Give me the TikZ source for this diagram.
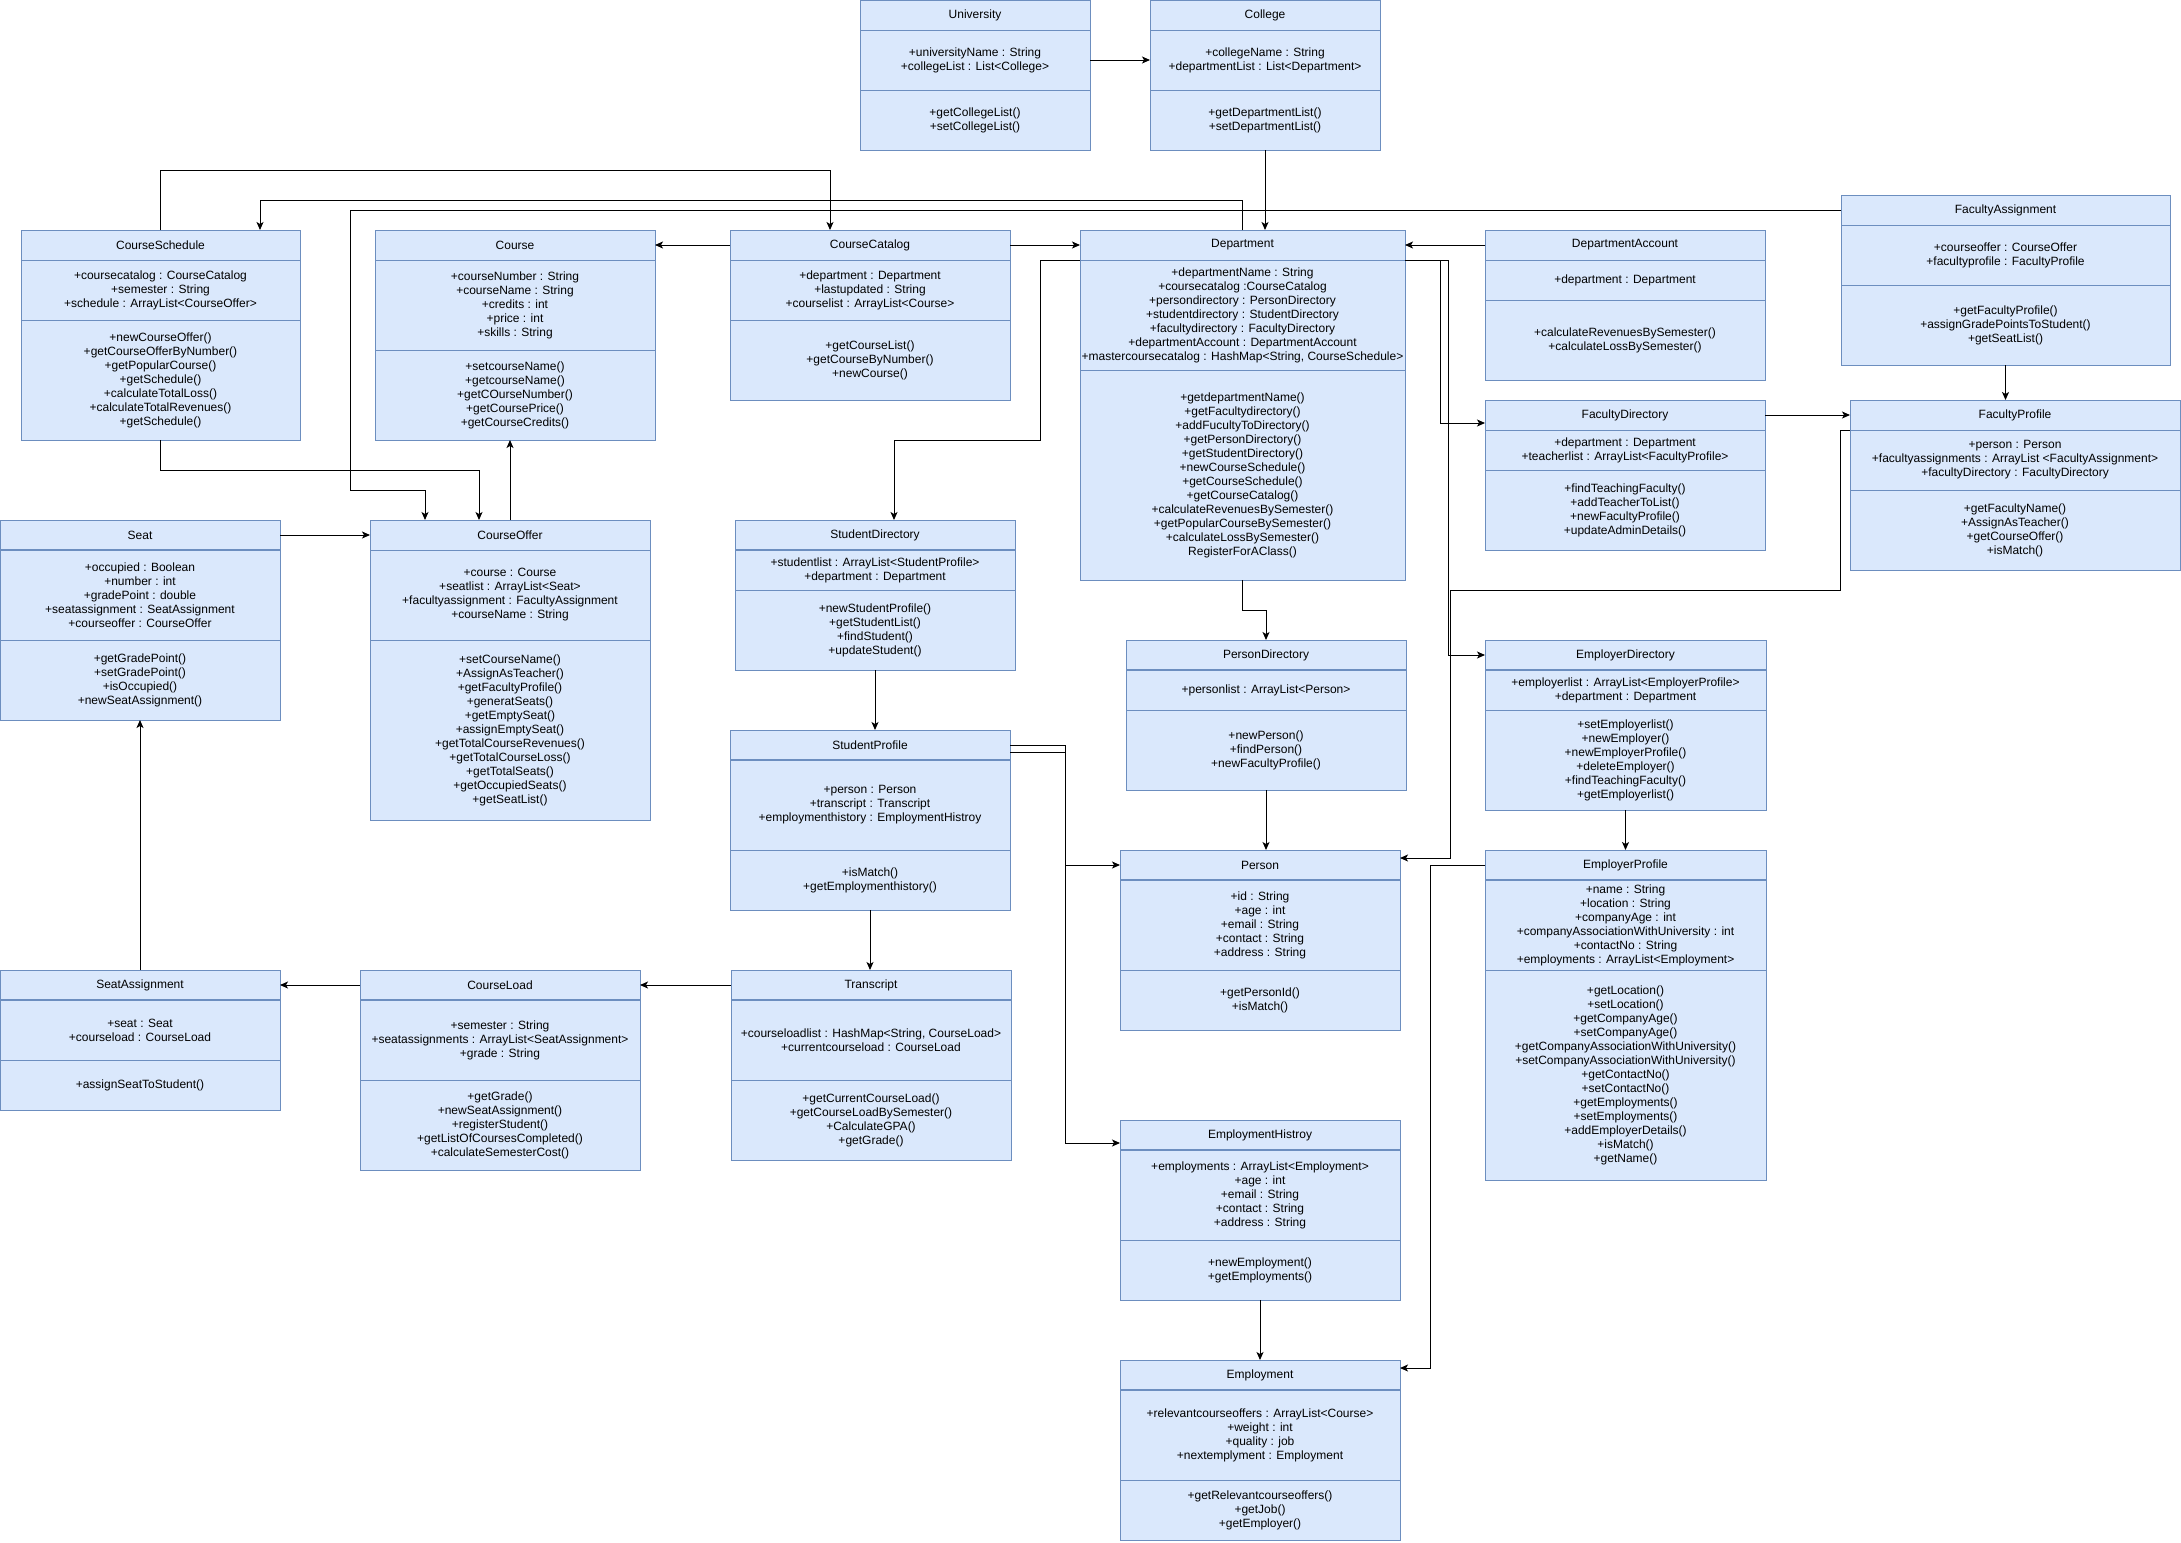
\documentclass[tikz,border=0pt]{standalone}
\usepackage{fontspec}
\setmainfont{Liberation Sans}
\usetikzlibrary{
arrows,
arrows.meta,
positioning
}
\definecolor{classfill}{HTML}{DAE8FC}
\definecolor{classline}{HTML}{6C8EBF}
\tikzset{>={Stealth[length=8pt,width=7pt,inset=2pt]}}
\tikzset{
classhead/.style={draw=classline, fill=classfill, line width=1pt, inner sep=0pt, outer sep=0pt,
  align=center, minimum width=#1, minimum height=30pt},
classpart/.style={classhead=#1},
link/.style={->, line width=1pt}
}

\begin{document}
\begin{tikzpicture}[x=1pt, y=-1pt, font=\fontsize{12pt}{14pt}\selectfont]
		\useasboundingbox (0,0) rectangle (2181,1542);

		% top row
		\node[classhead=230pt, anchor=north west] (univ) at (860,0) {University};
		\node[classpart=230pt, minimum height=60pt, below=0pt of univ] (univ-a) {+universityName : String\\+collegeList : List<College>};
		\node[classpart=230pt, minimum height=60pt, below=0pt of univ-a] (univ-m) {+getCollegeList()\\+setCollegeList()};

		\node[classhead=230pt, anchor=north west] (college) at (1150,0) {College};
		\node[classpart=230pt, minimum height=60pt, below=0pt of college] (college-a) {+collegeName : String\\+departmentList : List<Department>};
		\node[classpart=230pt, minimum height=60pt, below=0pt of college-a] (college-m) {+getDepartmentList()\\+setDepartmentList()};

		% second row
		\node[classhead=279pt, anchor=north west] (sched) at (21,230) {CourseSchedule};
		\node[classpart=279pt, minimum height=60pt, below=0pt of sched] (sched-a) {+coursecatalog : CourseCatalog\\+semester : String\\+schedule : ArrayList<CourseOffer>};
		\node[classpart=279pt, minimum height=120pt, below=0pt of sched-a] (sched-m) {+newCourseOffer()\\+getCourseOfferByNumber()\\+getPopularCourse()\\+getSchedule()\\+calculateTotalLoss()\\+calculateTotalRevenues()\\+getSchedule()};

		\node[classhead=280pt, anchor=north west] (course) at (375,230) {Course};
		\node[classpart=280pt, minimum height=90pt, below=0pt of course] (course-a) {+courseNumber : String\\+courseName : String\\+credits : int\\+price : int\\+skills : String};
		\node[classpart=280pt, minimum height=90pt, below=0pt of course-a] (course-m) {+setcourseName()\\+getcourseName()\\+getCOurseNumber()\\+getCoursePrice()\\+getCourseCredits()};

		\node[classhead=280pt, anchor=north west] (cat) at (730,230) {CourseCatalog};
		\node[classpart=280pt, minimum height=60pt, below=0pt of cat] (cat-a) {+department : Department\\+lastupdated : String\\+courselist : ArrayList<Course>};
		\node[classpart=280pt, minimum height=80pt, below=0pt of cat-a] (cat-m) {+getCourseList()\\+getCourseByNumber()\\+newCourse()};

		\node[classhead=325pt, anchor=north west] (dept) at (1080,230) {Department};
		\node[classpart=325pt, minimum height=110pt, below=0pt of dept] (dept-a) {+departmentName : String\\+coursecatalog :CourseCatalog\\+persondirectory : PersonDirectory\\+studentdirectory : StudentDirectory\\+facultydirectory : FacultyDirectory\\+departmentAccount : DepartmentAccount\\+mastercoursecatalog : HashMap<String, CourseSchedule>};
		\node[classpart=325pt, minimum height=210pt, below=0pt of dept-a] (dept-m) {+getdepartmentName()\\+getFacultydirectory()\\+addFucultyToDirectory()\\+getPersonDirectory()\\+getStudentDirectory()\\+newCourseSchedule()\\+getCourseSchedule()\\+getCourseCatalog()\\+calculateRevenuesBySemester()\\+getPopularCourseBySemester()\\+calculateLossBySemester()\\RegisterForAClass()};

		\node[classhead=280pt, anchor=north west] (acct) at (1485,230) {DepartmentAccount};
		\node[classpart=280pt, minimum height=40pt, below=0pt of acct] (acct-a) {+department : Department};
		\node[classpart=280pt, minimum height=80pt, below=0pt of acct-a] (acct-m) {+calculateRevenuesBySemester()\\+calculateLossBySemester()};

		\node[classhead=329pt, anchor=north west] (fassign) at (1841,195) {FacultyAssignment};
		\node[classpart=329pt, minimum height=60pt, below=0pt of fassign] (fassign-a) {+courseoffer : CourseOffer\\+facultyprofile : FacultyProfile};
		\node[classpart=329pt, minimum height=80pt, below=0pt of fassign-a] (fassign-m) {+getFacultyProfile()\\+assignGradePointsToStudent()\\+getSeatList()};

		\node[classhead=280pt, anchor=north west] (facdir) at (1485,400) {FacultyDirectory};
		\node[classpart=280pt, minimum height=40pt, below=0pt of facdir] (facdir-a) {+department : Department\\+teacherlist : ArrayList<FacultyProfile>};
		\node[classpart=280pt, minimum height=80pt, below=0pt of facdir-a] (facdir-m) {+findTeachingFaculty()\\+addTeacherToList()\\+newFacultyProfile()\\+updateAdminDetails()};

		\node[classhead=330pt, anchor=north west] (facprof) at (1850,400) {FacultyProfile};
		\node[classpart=330pt, minimum height=60pt, below=0pt of facprof] (facprof-a) {+person : Person\\+facultyassignments : ArrayList <FacultyAssignment>\\+facultyDirectory : FacultyDirectory};
		\node[classpart=330pt, minimum height=80pt, below=0pt of facprof-a] (facprof-m) {+getFacultyName()\\+AssignAsTeacher()\\+getCourseOffer()\\+isMatch()};

		% third row
		\node[classhead=280pt, anchor=north west] (seat) at (0,520) {Seat};
		\node[classpart=280pt, minimum height=90pt, below=0pt of seat] (seat-a) {+occupied : Boolean\\+number : int\\+gradePoint : double\\+seatassignment : SeatAssignment\\+courseoffer : CourseOffer};
		\node[classpart=280pt, minimum height=80pt, below=0pt of seat-a] (seat-m) {+getGradePoint()\\+setGradePoint()\\+isOccupied()\\+newSeatAssignment()};

		\node[classhead=280pt, anchor=north west] (offer) at (370,520) {CourseOffer};
		\node[classpart=280pt, minimum height=90pt, below=0pt of offer] (offer-a) {+course : Course\\+seatlist : ArrayList<Seat>\\+facultyassignment : FacultyAssignment\\+courseName : String};
		\node[classpart=280pt, minimum height=180pt, below=0pt of offer-a] (offer-m) {+setCourseName()\\+AssignAsTeacher()\\+getFacultyProfile()\\+generatSeats()\\+getEmptySeat()\\+assignEmptySeat()\\+getTotalCourseRevenues()\\+getTotalCourseLoss()\\+getTotalSeats()\\+getOccupiedSeats()\\+getSeatList()};

		\node[classhead=280pt, anchor=north west] (sdir) at (735,520) {StudentDirectory};
		\node[classpart=280pt, minimum height=40pt, below=0pt of sdir] (sdir-a) {+studentlist : ArrayList<StudentProfile>\\+department : Department};
		\node[classpart=280pt, minimum height=80pt, below=0pt of sdir-a] (sdir-m) {+newStudentProfile()\\+getStudentList()\\+findStudent()\\+updateStudent()};

		\node[classhead=280pt, anchor=north west] (sprof) at (730,730) {StudentProfile};
		\node[classpart=280pt, minimum height=90pt, below=0pt of sprof] (sprof-a) {+person : Person\\+transcript : Transcript\\+employmenthistory : EmploymentHistroy};
		\node[classpart=280pt, minimum height=60pt, below=0pt of sprof-a] (sprof-m) {+isMatch()\\+getEmploymenthistory()};

		\node[classhead=280pt, anchor=north west] (pdir) at (1126,640) {PersonDirectory};
		\node[classpart=280pt, minimum height=40pt, below=0pt of pdir] (pdir-a) {+personlist : ArrayList<Person>};
		\node[classpart=280pt, minimum height=80pt, below=0pt of pdir-a] (pdir-m) {+newPerson()\\+findPerson()\\+newFacultyProfile()};

		\node[classhead=281pt, anchor=north west] (empdir) at (1485,640) {EmployerDirectory};
		\node[classpart=281pt, minimum height=40pt, below=0pt of empdir] (empdir-a) {+employerlist : ArrayList<EmployerProfile>\\+department : Department};
		\node[classpart=281pt, minimum height=100pt, below=0pt of empdir-a] (empdir-m) {+setEmployerlist()\\+newEmployer()\\+newEmployerProfile()\\+deleteEmployer()\\+findTeachingFaculty()\\+getEmployerlist()};

		\node[classhead=280pt, anchor=north west] (person) at (1120,850) {Person};
		\node[classpart=280pt, minimum height=90pt, below=0pt of person] (person-a) {+id : String\\+age : int\\+email : String\\+contact : String\\+address : String};
		\node[classpart=280pt, minimum height=60pt, below=0pt of person-a] (person-m) {+getPersonId()\\+isMatch()};

		\node[classhead=281pt, anchor=north west] (empprof) at (1485,850) {EmployerProfile};
		\node[classpart=281pt, minimum height=90pt, below=0pt of empprof] (empprof-a) {+name : String\\+location : String\\+companyAge : int\\+companyAssociationWithUniversity : int\\+contactNo : String\\+employments : ArrayList<Employment>};
		\node[classpart=281pt, minimum height=210pt, below=0pt of empprof-a] (empprof-m) {+getLocation()\\+setLocation()\\+getCompanyAge()\\+setCompanyAge()\\+getCompanyAssociationWithUniversity()\\+setCompanyAssociationWithUniversity()\\+getContactNo()\\+setContactNo()\\+getEmployments()\\+setEmployments()\\+addEmployerDetails()\\+isMatch()\\+getName()};

		% bottom row
		\node[classhead=280pt, anchor=north west] (seatas) at (0,970) {SeatAssignment};
		\node[classpart=280pt, minimum height=60pt, below=0pt of seatas] (seatas-a) {+seat : Seat\\+courseload : CourseLoad};
		\node[classpart=280pt, minimum height=50pt, below=0pt of seatas-a] (seatas-m) {+assignSeatToStudent()};

		\node[classhead=280pt, anchor=north west] (load) at (360,970) {CourseLoad};
		\node[classpart=280pt, minimum height=80pt, below=0pt of load] (load-a) {+semester : String\\+seatassignments : ArrayList<SeatAssignment>\\+grade : String};
		\node[classpart=280pt, minimum height=90pt, below=0pt of load-a] (load-m) {+getGrade()\\+newSeatAssignment()\\+registerStudent()\\+getListOfCoursesCompleted()\\+calculateSemesterCost()};

		\node[classhead=280pt, anchor=north west] (trans) at (731,970) {Transcript};
		\node[classpart=280pt, minimum height=80pt, below=0pt of trans] (trans-a) {+courseloadlist : HashMap<String, CourseLoad>\\+currentcourseload : CourseLoad};
		\node[classpart=280pt, minimum height=80pt, below=0pt of trans-a] (trans-m) {+getCurrentCourseLoad()\\+getCourseLoadBySemester()\\+CalculateGPA()\\+getGrade()};

		\node[classhead=280pt, anchor=north west] (emphist) at (1120,1120) {EmploymentHistroy};
		\node[classpart=280pt, minimum height=90pt, below=0pt of emphist] (emphist-a) {+employments : ArrayList<Employment>\\+age : int\\+email : String\\+contact : String\\+address : String};
		\node[classpart=280pt, minimum height=60pt, below=0pt of emphist-a] (emphist-m) {+newEmployment()\\+getEmployments()};

		\node[classhead=280pt, anchor=north west] (employ) at (1120,1360) {Employment};
		\node[classpart=280pt, minimum height=90pt, below=0pt of employ] (employ-a) {+relevantcourseoffers : ArrayList<Course>\\+weight : int\\+quality : job\\+nextemplyment : Employment};
		\node[classpart=280pt, minimum height=60pt, below=0pt of employ-a] (employ-m) {+getRelevantcourseoffers()\\+getJob()\\+getEmployer()};

		% heavier header rules
		\foreach \c in {seat,sdir,sprof,pdir,empdir,person,empprof,seatas,load,trans,emphist,employ}
			\draw[classline, line width=2pt] (\c.south west) -- (\c.south east);

		% connectors
		\draw[link] (univ-a.east) -- (college-a.west);
		\draw[link] (college-m.south) -- (college-m.south |- dept.north);
		\draw[link] (dept.north) -- ++(0,-30) -| ([xshift=239pt]sched.north west);
		\draw[link] (sched.north) -- ++(0,-60) -| ([xshift=100pt]cat.north west);
		\draw[link] (cat.west) -- (course.east);
		\draw[link] (cat.east) -- (dept.west);
		\draw[link] (acct.west) -- (dept.east);
		\draw[link] (fassign.west) -| (350,490) -| ([xshift=55pt]offer.north west);
		\draw[link] (sched-m.south) -- ++(0,30) -| ([xshift=109pt]offer.north west);
		\draw[link] (offer.north) -- (offer.north |- course-m.south);
		\draw[link] (seat.east) -- (offer.west);
		\draw[link] (seatas.north) -- (seat-m.south);
		\draw[link] (load.west) -- (seatas.east);
		\draw[link] (trans.west) -- (load.east);
		\draw[link] (sprof-m.south) -- (sprof-m.south |- trans.north);
		\draw[link] (dept.south west) -- ++(-40,0) |- (894,440) -- ([xshift=159pt]sdir.north west);
		\draw[link] (sdir-m.south) -- (sdir-m.south |- sprof.north);
		\draw[link] (dept-m.south) -- ++(0,30) -| (pdir.north);
		\draw[link] (pdir-m.south) -- (pdir-m.south |- person.north);
		\draw[link] (dept.south east) -- ++(35,0) |- ([yshift=-8pt]facdir.west);
		\draw[link] (dept.south east) -- ++(43,0) |- (empdir.west);
		\draw[link] (facdir.east) -- (facprof.west);
		\draw[link] (fassign-m.south) -- (fassign-m.south |- facprof.north);
		\draw[link] (facprof.south west) -- ++(-10,0) |- (1450,590) |- ([yshift=7pt]person.east);
		\draw[link] (empdir-m.south) -- (empprof.north);
		\draw[link] (empprof.west) -- ++(-55,0) |- ([yshift=7pt]employ.east);
		\draw[link] (sprof.east) -- ++(55,0) |- (person.west);
		\draw[link] ([yshift=-7pt]sprof.east) -- ++(55,0) |- ([yshift=-8pt]emphist.west);
		\draw[link] (emphist-m.south) -- (employ.north);
	\end{tikzpicture}
\end{document}
